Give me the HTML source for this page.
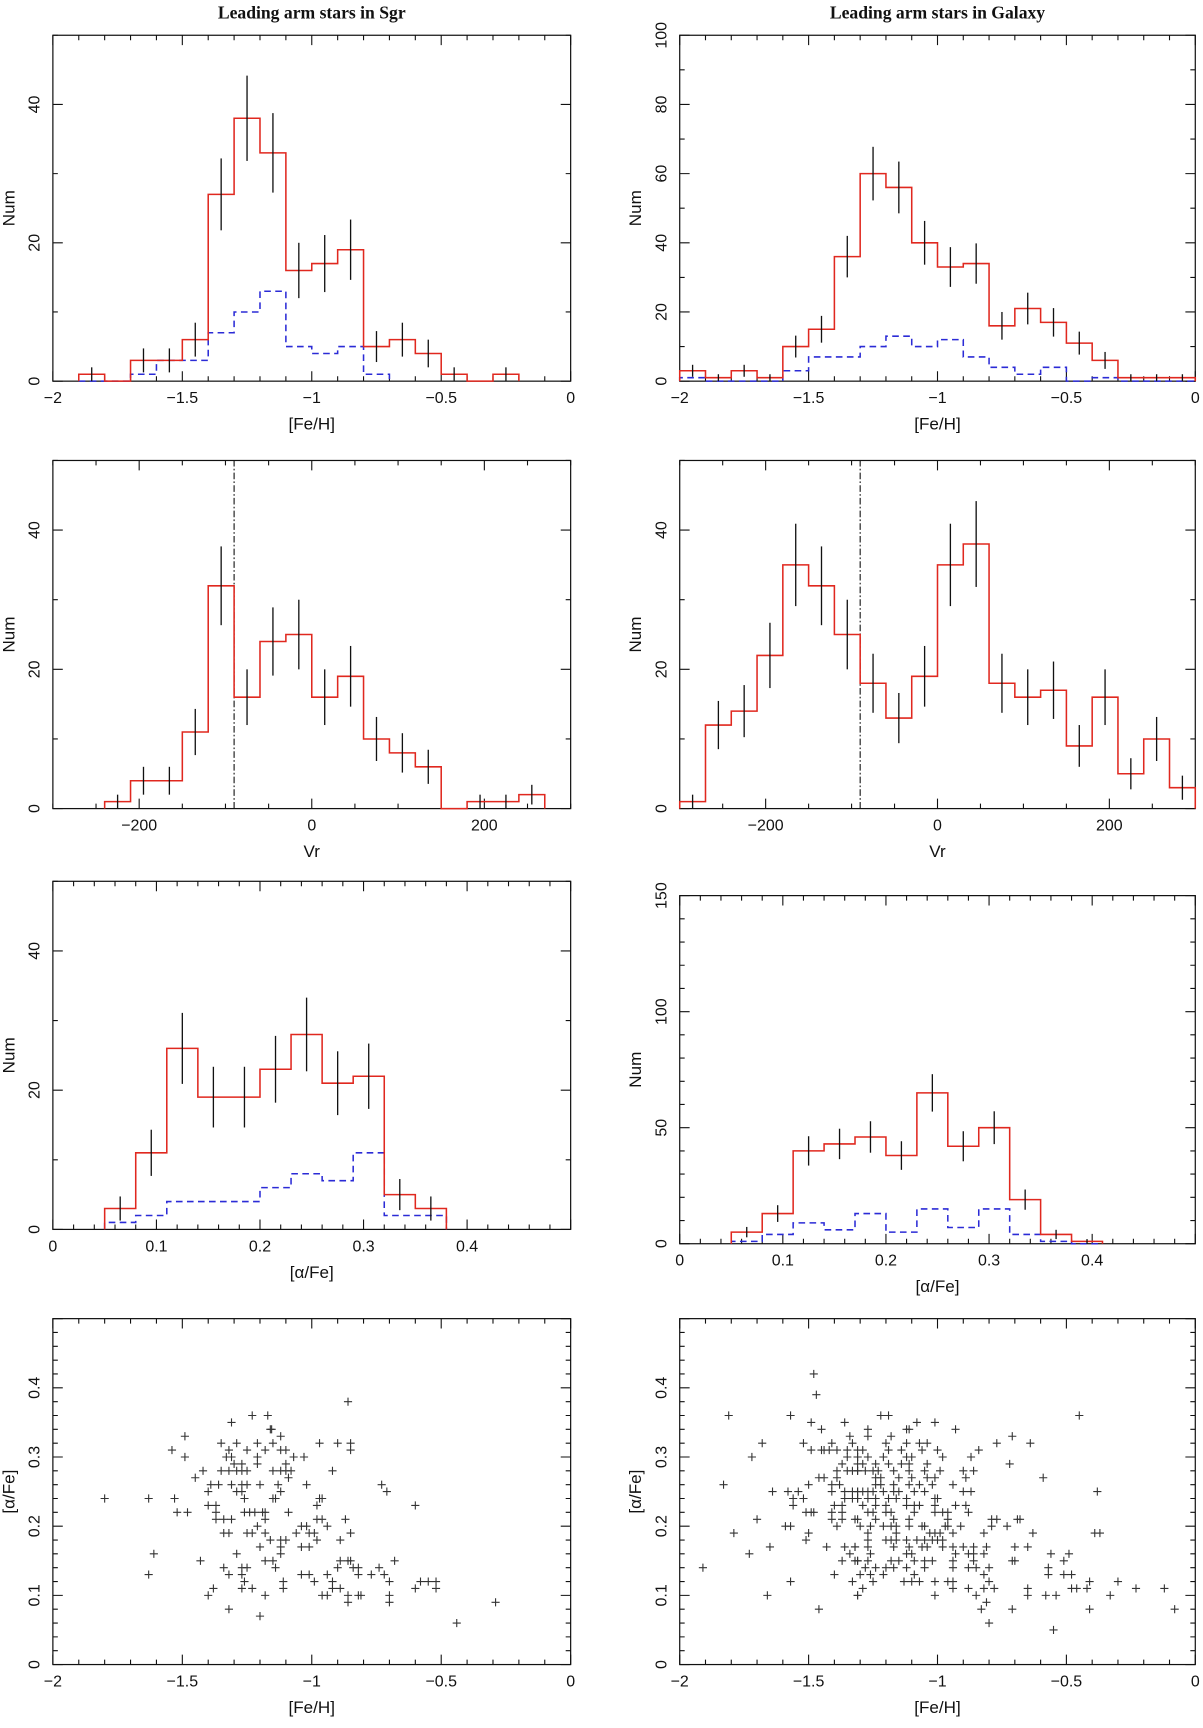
<!DOCTYPE html>
<html><head><meta charset="utf-8"><style>
html,body{margin:0;padding:0;background:#fff}
svg{display:block}
text{font-family:"Liberation Sans",sans-serif;fill:#111}
</style></head><body>
<svg id="fig" width="1203" height="1728" viewBox="0 0 1092 1568.6" preserveAspectRatio="none" xmlns="http://www.w3.org/2000/svg">
<text x="283" y="17" text-anchor="middle" style="font-family:'Liberation Serif',serif;font-weight:bold;font-size:16px">Leading arm stars in Sgr</text>
<text x="851" y="17" text-anchor="middle" style="font-family:'Liberation Serif',serif;font-weight:bold;font-size:16px">Leading arm stars in Galaxy</text>
</svg>
<script>
// ---- data ----
const p1Start=-1.9, p1Width=0.1;
const p1Red=[1,0,3,3,6,27,38,33,16,17,19,5,6,4,1,0,1];
const p1Blue=[0,0,1,3,3,7,10,13,5,4,5,1];
const p2Start=-2, p2Width=0.1;
const p2Red=[3,1,3,1,10,15,36,60,56,40,33,34,16,21,17,11,6,1,1,1];
const p2Blue=[1,0,0,0,3,7,7,10,13,10,12,7,4,2,4,0,1,0,0,0];
const p3Start=-240, p3Width=30;
const p3Red=[1,4,4,11,32,16,24,25,16,19,10,8,6,0,1,1,2];
const p4Start=-300, p4Width=30;
const p4Red=[1,12,14,22,35,32,25,18,13,19,35,38,18,16,17,9,16,5,10,3];
const vCut=-90;
const p5Start=0.05, p5Width=0.03;
const p5Red=[3,11,26,19,19,23,28,21,22,5,3];
const p5Blue=[1,2,4,4,4,6,8,7,11,2,2];
const p6Start=0.05, p6Width=0.03;
const p6Red=[5,13,40,43,46,38,65,42,50,19,4,1];
const p6Blue=[1,4,9,6,13,5,15,7,15,4,1,0];
const fehTicks=[-2,-1.5,-1,-0.5,0];
const vrTicks=[-200,0,200];
const afeTicks=[0,0.1,0.2,0.3,0.4];
const num50Ticks=[0,20,40];
const num100Ticks=[0,20,40,60,80,100];
const num150Ticks=[0,50,100,150];
const sgrPoints=[[-1.80,.24],[-1.63,.24],[-1.53,.24],[-1.49,.33],[-1.54,.31],[-1.49,.30],[-1.61,.16],[-1.63,.13],[-1.52,.22],[-1.48,.22],[-1.31,.35],[-1.23,.36],[-1.17,.36],[-1.16,.34],[-1.155,.34],[-1.12,.33],
[-1.35,.32],[-1.29,.32],[-1.21,.32],[-1.15,.32],[-1.32,.31],[-1.25,.31],[-1.18,.31],[-1.12,.31],[-1.10,.31],[-1.33,.30],[-1.31,.30],[-1.21,.30],
[-1.30,.29],[-1.27,.29],[-1.21,.29],[-1.10,.29],[-1.42,.28],[-1.35,.28],[-1.32,.28],[-1.29,.28],[-1.27,.28],[-1.25,.28],[-1.15,.28],[-1.12,.28],[-1.10,.28],
[-1.45,.27],[-1.09,.27],[-1.39,.26],[-1.36,.26],[-1.31,.26],[-1.27,.26],[-1.25,.26],[-1.20,.26],[-1.13,.26],[-1.40,.25],[-1.29,.25],[-1.27,.25],[-1.12,.25],
[-1.26,.24],[-1.15,.24],[-1.14,.24],[-1.40,.23],[-1.37,.23],[-1.37,.22],[-1.26,.22],[-1.24,.22],[-1.22,.22],[-1.19,.22],[-1.18,.22],[-1.09,.22],
[-1.37,.21],[-1.34,.21],[-1.31,.21],[-1.18,.21],[-1.21,.20],[-1.34,.19],[-1.32,.19],[-1.25,.19],[-1.23,.19],[-1.18,.19],[-1.16,.18],[-1.12,.18],[-1.10,.18],
[-1.20,.17],[-1.12,.17],[-1.29,.16],[-1.12,.16],[-1.43,.15],[-1.18,.15],[-1.15,.15],[-1.34,.14],[-1.27,.14],[-1.25,.14],[-1.14,.14],[-1.32,.13],[-1.27,.13],
[-1.26,.12],[-1.11,.12],[-1.38,.11],[-1.27,.11],[-1.23,.11],[-1.11,.11],[-1.40,.10],[-1.18,.10],[-1.32,.08],[-1.20,.07],
[-0.86,.38],[-0.97,.32],[-0.90,.32],[-0.85,.32],[-0.85,.31],[-1.07,.30],[-1.03,.30],[-1.08,.28],[-0.92,.28],[-1.02,.26],[-0.73,.26],[-0.71,.25],[-0.97,.24],[-0.96,.24],[-0.98,.23],[-0.60,.23],
[-0.98,.21],[-0.96,.21],[-0.87,.21],[-0.94,.20],[-1.04,.20],[-1.02,.20],[-1.06,.19],[-1.01,.19],[-0.99,.19],[-0.85,.19],[-0.98,.18],[-0.89,.18],[-1.04,.17],[-1.01,.17],
[-0.89,.15],[-0.86,.15],[-0.85,.15],[-0.68,.15],[-0.90,.14],[-0.84,.14],[-0.82,.14],[-0.74,.14],[-1.04,.13],[-1.01,.13],[-0.94,.13],[-0.82,.13],[-0.77,.13],[-0.72,.13],
[-0.99,.12],[-0.92,.12],[-0.70,.12],[-0.58,.12],[-0.55,.12],[-0.52,.12],[-0.92,.11],[-0.89,.11],[-0.60,.11],[-0.52,.11],
[-0.96,.10],[-0.94,.10],[-0.86,.10],[-0.82,.10],[-0.81,.10],[-0.70,.10],[-0.86,.09],[-0.70,.09],[-0.44,.06],[-0.29,.09]];
const galPoints=[[-1.48,.42],[-1.47,.39],[-1.81,.36],[-1.57,.36],[-1.49,.35],[-1.36,.35],[-1.45,.34],[-1.34,.33],[-1.68,.32],[-1.52,.32],[-1.41,.32],[-1.33,.32],
[-1.49,.31],[-1.45,.31],[-1.44,.31],[-1.42,.31],[-1.39,.31],[-1.35,.31],[-1.31,.31],[-1.72,.30],[-1.35,.30],[-1.31,.30],[-1.37,.29],
[-1.39,.28],[-1.35,.28],[-1.33,.28],[-1.31,.28],[-1.46,.27],[-1.44,.27],[-1.39,.27],[-1.83,.26],[-1.50,.26],[-1.41,.26],[-1.38,.26],
[-1.64,.25],[-1.58,.25],[-1.54,.25],[-1.41,.25],[-1.36,.25],[-1.33,.25],[-1.31,.25],[-1.56,.24],[-1.52,.24],[-1.36,.24],[-1.33,.24],[-1.31,.24],
[-1.56,.23],[-1.40,.23],[-1.37,.23],[-1.51,.22],[-1.49,.22],[-1.48,.22],[-1.41,.22],[-1.37,.22],[-1.70,.21],[-1.41,.21],[-1.37,.21],[-1.32,.21],
[-1.59,.20],[-1.57,.20],[-1.39,.20],[-1.79,.19],[-1.50,.19],[-1.51,.18],[-1.65,.17],[-1.43,.17],[-1.36,.17],[-1.32,.17],[-1.73,.16],[-1.34,.16],
[-1.37,.15],[-1.32,.15],[-1.31,.15],[-1.91,.14],[-1.40,.13],[-1.57,.12],[-1.33,.12],[-1.66,.10],[-1.31,.10],[-1.46,.08],
[-1.22,.36],[-1.19,.36],[-1.08,.35],[-1.01,.35],[-1.27,.34],[-1.12,.34],[-1.11,.34],[-0.93,.34],[-1.27,.33],[-1.18,.33],[-0.71,.33],
[-1.20,.32],[-1.12,.32],[-1.07,.32],[-1.04,.32],[-0.77,.32],[-1.29,.31],[-1.19,.31],[-1.14,.31],[-1.06,.31],[-1.00,.31],[-0.84,.31],
[-1.31,.30],[-1.27,.30],[-1.21,.30],[-1.12,.30],[-1.10,.30],[-0.98,.30],[-0.87,.30],[-1.31,.29],[-1.29,.29],[-1.24,.29],[-1.19,.29],[-1.14,.29],[-1.11,.29],[-1.04,.29],[-0.72,.29],
[-1.31,.28],[-1.28,.28],[-1.25,.28],[-1.23,.28],[-1.17,.28],[-1.11,.28],[-1.05,.28],[-0.99,.28],[-0.90,.28],[-0.86,.28],
[-1.24,.27],[-1.22,.27],[-1.15,.27],[-1.10,.27],[-1.04,.27],[-1.01,.27],[-0.89,.27],[-1.24,.26],[-1.22,.26],[-1.17,.26],[-1.11,.26],[-1.07,.26],[-1.02,.26],[-0.94,.26],
[-1.31,.25],[-1.29,.25],[-1.27,.25],[-1.25,.25],[-1.21,.25],[-1.17,.25],[-1.15,.25],[-1.09,.25],[-1.05,.25],[-0.90,.25],[-0.87,.25],
[-1.31,.24],[-1.27,.24],[-1.24,.24],[-1.19,.24],[-1.16,.24],[-1.12,.24],[-1.01,.24],[-1.00,.24],
[-1.29,.23],[-1.24,.23],[-1.20,.23],[-1.12,.23],[-1.09,.23],[-1.07,.23],[-1.01,.23],[-0.93,.23],[-0.89,.23],
[-1.27,.22],[-1.25,.22],[-1.20,.22],[-1.18,.22],[-1.09,.22],[-1.01,.22],[-0.98,.22],[-0.96,.22],[-0.88,.22],
[-1.31,.21],[-1.24,.21],[-1.17,.21],[-1.11,.21],[-0.96,.21],[-0.79,.21],[-0.77,.21],[-0.69,.21],[-0.68,.21],
[-1.30,.20],[-1.26,.20],[-1.21,.20],[-1.18,.20],[-1.16,.20],[-1.11,.20],[-1.06,.20],[-1.05,.20],[-0.97,.20],[-0.96,.20],[-0.91,.20],[-0.79,.20],[-0.73,.20],
[-1.27,.19],[-1.16,.19],[-1.03,.19],[-1.01,.19],[-0.99,.19],[-0.94,.19],[-0.82,.19],
[-1.27,.18],[-1.20,.18],[-1.18,.18],[-1.16,.18],[-1.12,.18],[-1.08,.18],[-1.05,.18],[-1.02,.18],[-1.00,.18],[-0.98,.18],
[-1.32,.17],[-1.27,.17],[-1.17,.17],[-1.11,.17],[-1.06,.17],[-1.04,.17],[-0.98,.17],[-0.94,.17],[-0.90,.17],[-0.86,.17],[-0.81,.17],[-0.70,.17],
[-1.26,.16],[-1.12,.16],[-1.10,.16],[-0.93,.16],[-0.88,.16],[-0.86,.16],[-0.82,.16],
[-1.31,.15],[-1.27,.15],[-1.18,.15],[-1.15,.15],[-1.09,.15],[-1.05,.15],[-1.02,.15],[-0.94,.15],[-0.86,.15],[-0.71,.15],[-0.70,.15],
[-1.28,.14],[-1.24,.14],[-1.20,.14],[-1.17,.14],[-1.12,.14],[-1.05,.14],[-0.94,.14],[-0.88,.14],[-0.85,.14],[-0.80,.14],
[-1.30,.13],[-1.26,.13],[-1.21,.13],[-1.09,.13],[-0.82,.13],[-1.25,.12],[-1.13,.12],[-1.10,.12],[-1.07,.12],[-1.01,.12],[-0.96,.12],[-0.94,.12],[-0.80,.12],
[-1.29,.11],[-0.94,.11],[-0.88,.11],[-0.82,.11],[-0.78,.11],[-1.31,.10],[-1.01,.10],[-0.85,.10],[-0.81,.09],[-0.83,.08],[-0.71,.08],[-0.80,.06],
[-0.45,.36],[-0.64,.32],[-0.59,.27],[-0.38,.25],[-0.63,.19],[-0.39,.19],[-0.37,.19],[-0.65,.17],[-0.56,.16],[-0.49,.16],[-0.51,.15],[-0.57,.14],
[-0.57,.13],[-0.51,.13],[-0.48,.13],[-0.41,.12],[-0.30,.12],[-0.65,.11],[-0.48,.11],[-0.46,.11],[-0.42,.11],[-0.23,.11],[-0.12,.11],
[-0.65,.10],[-0.58,.10],[-0.54,.10],[-0.33,.10],[-0.41,.08],[-0.08,.08],[-0.55,.05]];

// ---- drawing ----
const svg=document.getElementById('fig');
const NS='http://www.w3.org/2000/svg';
function mk(tag,attrs,parent){const e=document.createElementNS(NS,tag);for(const k in attrs)e.setAttribute(k,attrs[k]);(parent||svg).appendChild(e);return e;}
function fmt(v){let s=String(Math.round(v*1000)/1000);return s.replace('-','\u2212');}

function makePanel(o){
  const g=mk('g',{});
  
  
  const sx=v=>o.x0+(v-o.xmin)/(o.xmax-o.xmin)*(o.x1-o.x0);
  const sy=v=>o.y1-(v-o.ymin)/(o.ymax-o.ymin)*(o.y1-o.y0);
  const frame=mk('rect',{x:o.x0,y:o.y0,width:o.x1-o.x0,height:o.y1-o.y0,fill:'none',stroke:'#111','stroke-width':1.1},g);
  
  
  let d='';
  const eps=1e-9;
  for(let v=o.xmin;v<=o.xmax+eps;v+=o.xMinor){
    const vv=Math.round(v/o.xMinor)*o.xMinor;
    const major=Math.abs(vv/o.xMajor-Math.round(vv/o.xMajor))<1e-6;
    const L=major?9:4.5;const x=sx(vv);
    d+=`M${x} ${o.y1}v${-L}M${x} ${o.y0}v${L}`;
  }
  for(let v=o.ymin;v<=o.ymax+eps;v+=o.yMinor){
    const vv=Math.round(v/o.yMinor)*o.yMinor;
    const major=Math.abs(vv/o.yMajor-Math.round(vv/o.yMajor))<1e-6;
    const L=major?9:4.5;const y=sy(vv);
    d+=`M${o.x0} ${y}h${L}M${o.x1} ${y}h${-L}`;
  }
  const tk=mk('path',{d:d,stroke:'#111','stroke-width':1,fill:'none'},g);
  
  
  o.xTicks.forEach(v=>{
    const t=mk('text',{x:sx(v),y:o.y1+20,'text-anchor':'middle','font-size':14.5},g);
    
    
    t.textContent=fmt(v);
  });
  o.yTicks.forEach(v=>{
    const x=o.x0-12,y=sy(v);
    const t=mk('text',{x:x,y:y,'text-anchor':'middle',transform:`rotate(-90 ${x} ${y})`,'font-size':14.5},g);
    
    
    t.textContent=fmt(v);
  });
  const xt=mk('text',{x:(o.x0+o.x1)/2,y:o.y1+44,'text-anchor':'middle','font-size':15.5},g);
  
  
  xt.textContent=o.xTitle;
  const yx=o.x0-35,yy=(o.y0+o.y1)/2;
  const yt=mk('text',{x:yx,y:yy,'text-anchor':'middle',transform:`rotate(-90 ${yx} ${yy})`,'font-size':15.5},g);
  
  
  yt.textContent=o.yTitle;
  return {g,sx,sy};
}

function hist(P,start,w,counts,color,dash,errors,name){
  let d='';
  counts.forEach((c,i)=>{
    const a=P.sx(start+i*w),b=P.sx(start+(i+1)*w),y=P.sy(c);
    if(i===0)d+=`M${a} ${P.sy(0)}`;
    d+=`L${a} ${y}L${b} ${y}`;
    if(i===counts.length-1)d+=`L${b} ${P.sy(0)}`;
  });
  const p=mk('path',{d:d,fill:'none',stroke:color,'stroke-width':1.4,'stroke-dasharray':dash||'none'},P.g);
  
  
  if(errors){
    counts.forEach((c,i)=>{
      if(c<=0)return;
      const x=P.sx(start+(i+0.5)*w),e=Math.sqrt(c);
      const l=mk('line',{x1:x,x2:x,y1:P.sy(c-e),y2:P.sy(c+e),stroke:'#111','stroke-width':1.2},P.g);
      
      
    });
  }
}
function vline(P,v,ymax){
  const x=P.sx(v);
  const l=mk('line',{x1:x,x2:x,y1:P.sy(0),y2:P.sy(ymax),stroke:'#111','stroke-width':1,'stroke-dasharray':'6,2,1.5,2'},P.g);
  
  
}
function scatter(P,pts){
  pts.forEach(p=>{
    const x=P.sx(p[0]),y=P.sy(p[1]);
    const m=mk('path',{d:`M${x-3.7} ${y}h7.4M${x} ${y-3.7}v7.4`,stroke:'#333','stroke-width':1},P.g);
    
    
  });
}

const L0=48,L1=518,R0=617,R1=1085;
const P1=makePanel({name:'panel-sgr-feh',x0:L0,x1:L1,y0:32,y1:346,xmin:-2,xmax:0,ymin:0,ymax:50,xMajor:0.5,xMinor:0.1,yMajor:20,yMinor:10,xTicks:fehTicks,yTicks:num50Ticks,xTitle:'[Fe/H]',yTitle:'Num'});
hist(P1,p1Start,p1Width,p1Blue,'#2b2bd6','6,4',false,'blue-histogram');
hist(P1,p1Start,p1Width,p1Red,'#e0281f',null,true,'red-histogram');
const P2=makePanel({name:'panel-galaxy-feh',x0:R0,x1:R1,y0:32,y1:346,xmin:-2,xmax:0,ymin:0,ymax:100,xMajor:0.5,xMinor:0.1,yMajor:20,yMinor:10,xTicks:fehTicks,yTicks:num100Ticks,xTitle:'[Fe/H]',yTitle:'Num'});
hist(P2,p2Start,p2Width,p2Blue,'#2b2bd6','6,4',false,'blue-histogram');
hist(P2,p2Start,p2Width,p2Red,'#e0281f',null,true,'red-histogram');
const P3=makePanel({name:'panel-sgr-vr',x0:L0,x1:L1,y0:418,y1:734,xmin:-300,xmax:300,ymin:0,ymax:50,xMajor:200,xMinor:50,yMajor:20,yMinor:10,xTicks:vrTicks,yTicks:num50Ticks,xTitle:'Vr',yTitle:'Num'});
vline(P3,vCut,50);
hist(P3,p3Start,p3Width,p3Red,'#e0281f',null,true,'red-histogram');
const P4=makePanel({name:'panel-galaxy-vr',x0:R0,x1:R1,y0:418,y1:734,xmin:-300,xmax:300,ymin:0,ymax:50,xMajor:200,xMinor:50,yMajor:20,yMinor:10,xTicks:vrTicks,yTicks:num50Ticks,xTitle:'Vr',yTitle:'Num'});
vline(P4,vCut,50);
hist(P4,p4Start,p4Width,p4Red,'#e0281f',null,true,'red-histogram');
const P5=makePanel({name:'panel-sgr-alpha',x0:L0,x1:L1,y0:800,y1:1116,xmin:0,xmax:0.5,ymin:0,ymax:50,xMajor:0.1,xMinor:0.02,yMajor:20,yMinor:10,xTicks:afeTicks,yTicks:num50Ticks,xTitle:'[\u03b1/Fe]',yTitle:'Num'});
hist(P5,p5Start,p5Width,p5Blue,'#2b2bd6','6,4',false,'blue-histogram');
hist(P5,p5Start,p5Width,p5Red,'#e0281f',null,true,'red-histogram');
const P6=makePanel({name:'panel-galaxy-alpha',x0:R0,x1:R1,y0:813,y1:1129,xmin:0,xmax:0.5,ymin:0,ymax:150,xMajor:0.1,xMinor:0.02,yMajor:50,yMinor:10,xTicks:afeTicks,yTicks:num150Ticks,xTitle:'[\u03b1/Fe]',yTitle:'Num'});
hist(P6,p6Start,p6Width,p6Blue,'#2b2bd6','6,4',false,'blue-histogram');
hist(P6,p6Start,p6Width,p6Red,'#e0281f',null,true,'red-histogram');
const P7=makePanel({name:'panel-sgr-scatter',x0:L0,x1:L1,y0:1197,y1:1511,xmin:-2,xmax:0,ymin:0,ymax:0.5,xMajor:0.5,xMinor:0.1,yMajor:0.1,yMinor:0.02,xTicks:fehTicks,yTicks:afeTicks,xTitle:'[Fe/H]',yTitle:'[\u03b1/Fe]'});
scatter(P7,sgrPoints);
const P8=makePanel({name:'panel-galaxy-scatter',x0:R0,x1:R1,y0:1197,y1:1511,xmin:-2,xmax:0,ymin:0,ymax:0.5,xMajor:0.5,xMinor:0.1,yMajor:0.1,yMinor:0.02,xTicks:fehTicks,yTicks:afeTicks,xTitle:'[Fe/H]',yTitle:'[\u03b1/Fe]'});
scatter(P8,galPoints);
</script>
</body></html>
